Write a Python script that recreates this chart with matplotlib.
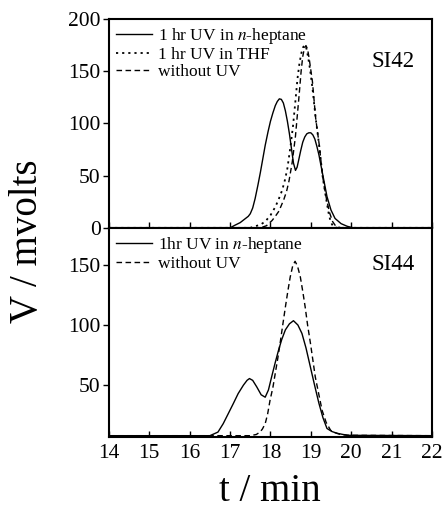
import matplotlib
matplotlib.use("Agg")
import matplotlib.pyplot as plt

plt.rcParams['font.family'] = ['Liberation Serif', 'DejaVu Serif']
plt.rcParams['mathtext.fontset'] = 'stix'

# SI42 panel
t_hep42 = [14.0, 17.0, 17.12, 17.25, 17.37, 17.45, 17.5, 17.56, 17.62, 17.69, 17.75, 17.81,
           17.87, 17.94, 18.0, 18.06, 18.12, 18.17, 18.22, 18.27, 18.32, 18.37, 18.42, 18.47,
           18.52, 18.57, 18.62, 18.66, 18.7, 18.75, 18.8, 18.85, 18.9, 18.95, 19.0, 19.05,
           19.1, 19.15, 19.2, 19.3, 19.4, 19.5, 19.6, 19.75, 19.9, 20.05, 22.0]
v_hep42 = [0, 0, 2.5, 5, 8.6, 11, 13.5, 19, 28, 41, 53, 66,
           79, 92, 102, 110, 117, 121, 123.5, 123, 119.5, 112, 102, 90,
           76, 62, 55, 58, 65, 74, 82, 87, 90, 91, 91, 89,
           85, 78, 70, 50, 30, 17, 9, 4, 1.5, 0, 0]

t_thf42 = [14.0, 17.5, 17.62, 17.75, 17.87, 18.0, 18.12, 18.2, 18.29, 18.36, 18.42, 18.5,
           18.56, 18.62, 18.67, 18.72, 18.77, 18.81, 18.85, 18.89, 18.93, 18.98, 19.04, 19.12,
           19.21, 19.29, 19.37, 19.45, 19.5, 19.56, 19.65, 22.0]
v_thf42 = [0, 0, 1.5, 3, 6, 12, 20, 27, 36, 46, 57, 79,
           98, 122, 143, 158, 168, 173, 175, 172, 164, 152, 134, 105,
           78, 50, 30, 12, 5, 1, 0, 0]

t_wo42 = [14.0, 17.75, 17.9, 18.04, 18.12, 18.21, 18.33, 18.4, 18.46, 18.54, 18.62, 18.71,
          18.76, 18.8, 18.84, 18.88, 18.92, 18.96, 19.04, 19.12, 19.21, 19.29, 19.37, 19.46,
          19.54, 19.62, 19.75, 22.0]
v_wo42 = [0, 0, 2, 7, 11, 16, 27, 35, 45, 63, 88, 127,
          150, 164, 172, 174.5, 171, 162, 140, 105, 79, 50, 31, 15,
          6, 1.5, 0, 0]

# SI44 panel
t_hep44 = [14.0, 16.5, 16.7, 16.83, 16.95, 17.08, 17.2, 17.33, 17.42, 17.48, 17.56, 17.66,
           17.77, 17.87, 17.95, 18.03, 18.12, 18.2, 18.28, 18.37, 18.47, 18.57, 18.68, 18.78,
           18.88, 18.99, 19.1, 19.2, 19.3, 19.4, 19.52, 19.65, 19.8, 19.95, 22.0]
v_hep44 = [8, 8, 11, 18, 26, 34.7, 43, 50, 54, 55.5, 54, 48.6,
           42, 40, 46, 57, 69, 79, 88, 96, 101, 103.6, 100, 93,
           81, 65, 49, 35, 23, 14, 11.5, 10, 9, 8.3, 8]

t_wo44 = [14.0, 17.5, 17.65, 17.74, 17.8, 17.87, 17.93, 17.99, 18.06, 18.12, 18.18, 18.24,
          18.3, 18.37, 18.43, 18.49, 18.55, 18.61, 18.67, 18.74, 18.8, 18.86, 18.92, 18.99,
          19.05, 19.11, 19.2, 19.28, 19.38, 19.49, 19.6, 19.73, 19.9, 22.0]
v_wo44 = [8, 8, 9, 11, 13.5, 18, 26, 37.5, 48, 60, 72, 85,
          99, 115, 128, 140, 149, 153, 149, 140, 128, 115, 100, 85,
          71, 57, 42, 29, 19, 12.5, 10.5, 9, 8.3, 8]

x_ticks = [14, 15, 16, 17, 18, 19, 20, 21, 22]

fig = plt.figure(figsize=(4.43, 5.12), dpi=100)
ax1 = fig.add_axes([0.246, 0.555, 0.729, 0.408])
ax2 = fig.add_axes([0.246, 0.146, 0.729, 0.409])

lw = 1.0
ax1.plot(t_hep42, v_hep42, color='black', lw=lw, label='1 hr UV in $n$-heptane')
ax1.plot(t_thf42, v_thf42, color='black', lw=1.3, ls=(0, (1.2, 2.2)), label='1 hr UV in THF')
ax1.plot(t_wo42, v_wo42, color='black', lw=lw, ls=(0, (4, 2.5)), label='without UV')

ax2.plot(t_hep44, v_hep44, color='black', lw=lw, label='1hr UV in $n$-heptane')
ax2.plot(t_wo44, v_wo44, color='black', lw=lw, ls=(0, (4, 2.5)), label='without UV')

ax1.set_ylim(0, 200)
ax1.set_yticks([0, 50, 100, 150, 200])
ax2.set_ylim(6.7, 180.8)
ax2.set_yticks([50, 100, 150])

for ax in (ax1, ax2):
    ax.set_xlim(14, 22)
    ax.set_xticks(x_ticks)
    ax.tick_params(axis='x', direction='in', length=4, width=1, top=False, pad=5)
    ax.tick_params(axis='y', direction='out', length=4, width=1, right=False, pad=2)
    ax.tick_params(labelsize=15.5)
    for s in ax.spines.values():
        s.set_linewidth(1.5)
    ax.legend(loc='upper left', frameon=False, fontsize=12.5, handlelength=2.1,
              handletextpad=0.35, labelspacing=0.05, borderaxespad=0.2, borderpad=0.2)

ax1.tick_params(axis='x', labelbottom=False)

ax1.text(0.947, 0.794, 'SI42', transform=ax1.transAxes, ha='right', va='center', fontsize=16.5)
ax2.text(0.947, 0.823, 'SI44', transform=ax2.transAxes, ha='right', va='center', fontsize=16.5)

fig.text(0.061, 0.529, 'V / mvolts', rotation=90, ha='center', va='center', fontsize=28)
fig.text(0.61, 0.04, 't / min', ha='center', va='center', fontsize=28)

fig.savefig('out.png', dpi=100)
